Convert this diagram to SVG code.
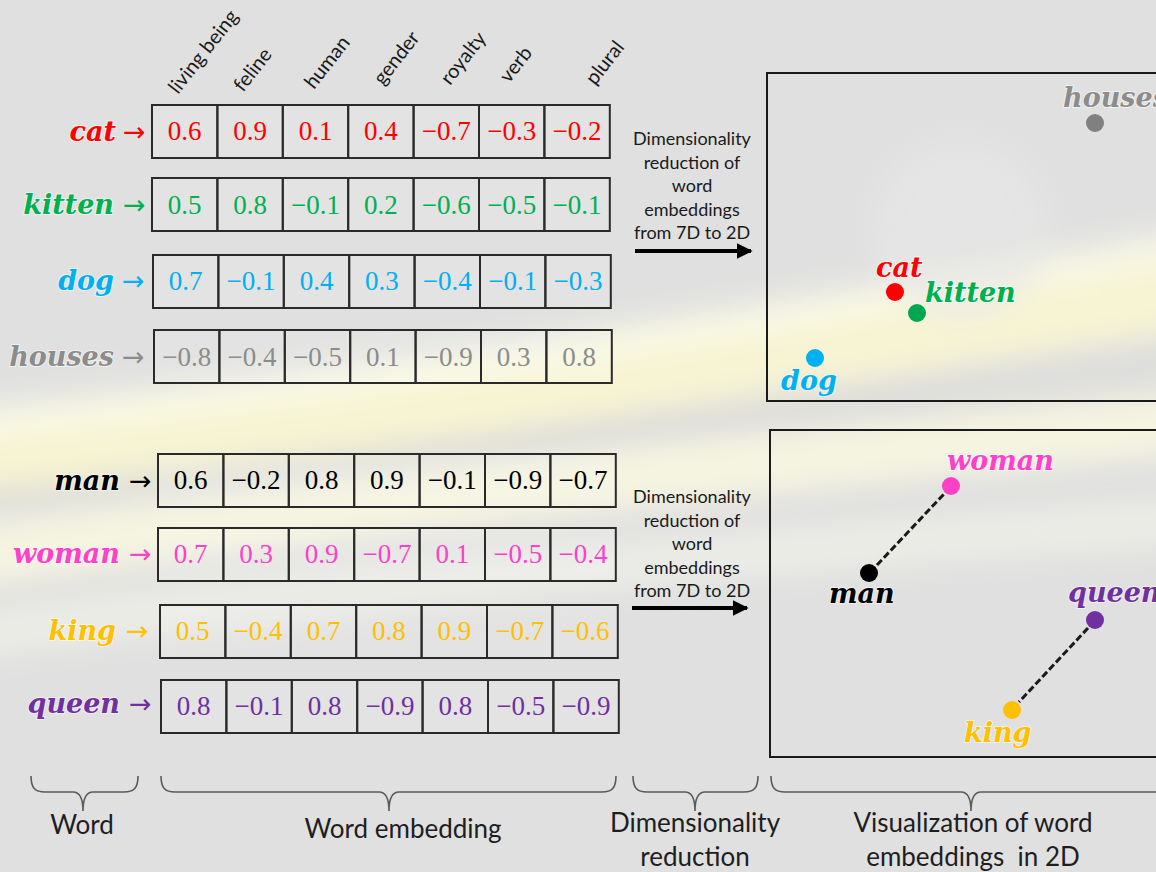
<svg xmlns="http://www.w3.org/2000/svg" width="1156" height="872" viewBox="0 0 1156 872">
<defs>
<style>
.hdr{font-family:Lato,"Open Sans",sans-serif;font-size:20px;fill:#1a1a1a}
.num{font-family:"Liberation Serif",serif;font-size:27px;text-anchor:middle}
.cell{fill:#ffffff;fill-opacity:0.12;stroke:#2a2a2a;stroke-width:2}
.wd{font-family:"DejaVu Serif",serif;font-weight:bold;font-style:italic;font-size:27px;paint-order:stroke;stroke:#ffffff;stroke-width:2;stroke-opacity:0.55}
.ar{font-family:"DejaVu Sans ExtraLight","DejaVu Sans",sans-serif;font-size:27px}
.dim{font-family:Lato,"Open Sans",sans-serif;font-size:18px;fill:#1a1a1a;text-anchor:middle}
.cap{font-family:Lato,"Open Sans",sans-serif;font-size:26px;fill:#1e1e1e;text-anchor:middle;white-space:pre}
.brace{fill:none;stroke:#5a5a5a;stroke-width:1.6}
.panel{fill:none;stroke:#1a1a1a;stroke-width:2}
.dash{stroke:#1a1a1a;stroke-width:3;stroke-dasharray:7 3;fill:none}
</style>
<filter id="blur" x="-20%" y="-50%" width="140%" height="200%"><feGaussianBlur stdDeviation="14"/></filter>
<marker id="ah" viewBox="0 0 10 10" refX="9" refY="5" markerWidth="4" markerHeight="4" orient="auto" markerUnits="strokeWidth"><path d="M0,0 L10,5 L0,10 z" fill="#000"/></marker>
</defs>

<g id="background">
<rect x="0" y="0" width="1156" height="872" fill="#e0e0e0"/>
<g filter="url(#blur)">
<path d="M-60,470 Q 450,410 1220,290" stroke="#f8f6d2" stroke-width="70" fill="none" opacity="0.9"/>
<path d="M-60,425 Q 450,380 1220,240" stroke="#fdfce8" stroke-width="30" fill="none" opacity="0.8"/>
<path d="M-60,560 Q 450,490 1220,420" stroke="#f9f8e2" stroke-width="60" fill="none" opacity="0.85"/>
<path d="M-60,640 Q 450,570 1220,520" stroke="#f1f1ea" stroke-width="45" fill="none" opacity="0.7"/>
<path d="M-60,500 Q 450,450 1220,360" stroke="#d6d6d0" stroke-width="16" fill="none" opacity="0.6"/>
<circle cx="960" cy="230" r="90" fill="#e8e8e8" opacity="0.6"/>
</g>
</g>

<g id="headers">
<text class="hdr" transform="translate(178,95) rotate(-52)">living being</text>
<text class="hdr" transform="translate(243,93) rotate(-52)">feline</text>
<text class="hdr" transform="translate(314,90) rotate(-52)">human</text>
<text class="hdr" transform="translate(383,86) rotate(-52)">gender</text>
<text class="hdr" transform="translate(450,86) rotate(-52)">royalty</text>
<text class="hdr" transform="translate(509,84) rotate(-52)">verb</text>
<text class="hdr" transform="translate(595,86) rotate(-52)">plural</text>
</g>

<g id="word-cat" fill="#ff0000">
<text class="wd" x="116" y="141" text-anchor="end">cat</text>
<text class="ar" x="123" y="141">→</text>
</g>
<g id="emb-cat" transform="translate(152,105)" fill="#ff0000">
<rect class="cell" x="0" y="0" width="65.4" height="53"/><rect class="cell" x="65.4" y="0" width="65.4" height="53"/><rect class="cell" x="130.8" y="0" width="65.4" height="53"/><rect class="cell" x="196.2" y="0" width="65.4" height="53"/><rect class="cell" x="261.6" y="0" width="65.4" height="53"/><rect class="cell" x="327" y="0" width="65.4" height="53"/><rect class="cell" x="392.4" y="0" width="65.4" height="53"/>
<text class="num" x="32.7" y="35">0.6</text><text class="num" x="98.1" y="35">0.9</text><text class="num" x="163.5" y="35">0.1</text><text class="num" x="228.9" y="35">0.4</text><text class="num" x="294.3" y="35">−0.7</text><text class="num" x="359.7" y="35">−0.3</text><text class="num" x="425.1" y="35">−0.2</text>
</g>

<g id="word-kitten" fill="#00b050">
<text class="wd" x="114" y="214" text-anchor="end">kitten</text>
<text class="ar" x="123" y="214">→</text>
</g>
<g id="emb-kitten" transform="translate(152,178)" fill="#00b050">
<rect class="cell" x="0" y="0" width="65.4" height="53"/><rect class="cell" x="65.4" y="0" width="65.4" height="53"/><rect class="cell" x="130.8" y="0" width="65.4" height="53"/><rect class="cell" x="196.2" y="0" width="65.4" height="53"/><rect class="cell" x="261.6" y="0" width="65.4" height="53"/><rect class="cell" x="327" y="0" width="65.4" height="53"/><rect class="cell" x="392.4" y="0" width="65.4" height="53"/>
<text class="num" x="32.7" y="36">0.5</text><text class="num" x="98.1" y="36">0.8</text><text class="num" x="163.5" y="36">−0.1</text><text class="num" x="228.9" y="36">0.2</text><text class="num" x="294.3" y="36">−0.6</text><text class="num" x="359.7" y="36">−0.5</text><text class="num" x="425.1" y="36">−0.1</text>
</g>

<g id="word-dog" fill="#00b0f0">
<text class="wd" x="114" y="290" text-anchor="end">dog</text>
<text class="ar" x="122" y="290">→</text>
</g>
<g id="emb-dog" transform="translate(153,255)" fill="#00b0f0">
<rect class="cell" x="0" y="0" width="65.4" height="53"/><rect class="cell" x="65.4" y="0" width="65.4" height="53"/><rect class="cell" x="130.8" y="0" width="65.4" height="53"/><rect class="cell" x="196.2" y="0" width="65.4" height="53"/><rect class="cell" x="261.6" y="0" width="65.4" height="53"/><rect class="cell" x="327" y="0" width="65.4" height="53"/><rect class="cell" x="392.4" y="0" width="65.4" height="53"/>
<text class="num" x="32.7" y="35">0.7</text><text class="num" x="98.1" y="35">−0.1</text><text class="num" x="163.5" y="35">0.4</text><text class="num" x="228.9" y="35">0.3</text><text class="num" x="294.3" y="35">−0.4</text><text class="num" x="359.7" y="35">−0.1</text><text class="num" x="425.1" y="35">−0.3</text>
</g>

<g id="word-houses" fill="#8c8c8c">
<text class="wd" x="114" y="366" text-anchor="end">houses</text>
<text class="ar" x="122" y="366">→</text>
</g>
<g id="emb-houses" transform="translate(154,330)" fill="#8c8c8c">
<rect class="cell" x="0" y="0" width="65.4" height="53"/><rect class="cell" x="65.4" y="0" width="65.4" height="53"/><rect class="cell" x="130.8" y="0" width="65.4" height="53"/><rect class="cell" x="196.2" y="0" width="65.4" height="53"/><rect class="cell" x="261.6" y="0" width="65.4" height="53"/><rect class="cell" x="327" y="0" width="65.4" height="53"/><rect class="cell" x="392.4" y="0" width="65.4" height="53"/>
<text class="num" x="32.7" y="36">−0.8</text><text class="num" x="98.1" y="36">−0.4</text><text class="num" x="163.5" y="36">−0.5</text><text class="num" x="228.9" y="36">0.1</text><text class="num" x="294.3" y="36">−0.9</text><text class="num" x="359.7" y="36">0.3</text><text class="num" x="425.1" y="36">0.8</text>
</g>

<g id="word-man" fill="#000000">
<text class="wd" x="120" y="490" text-anchor="end">man</text>
<text class="ar" x="129" y="490">→</text>
</g>
<g id="emb-man" transform="translate(158,454)" fill="#000000">
<rect class="cell" x="0" y="0" width="65.4" height="53"/><rect class="cell" x="65.4" y="0" width="65.4" height="53"/><rect class="cell" x="130.8" y="0" width="65.4" height="53"/><rect class="cell" x="196.2" y="0" width="65.4" height="53"/><rect class="cell" x="261.6" y="0" width="65.4" height="53"/><rect class="cell" x="327" y="0" width="65.4" height="53"/><rect class="cell" x="392.4" y="0" width="65.4" height="53"/>
<text class="num" x="32.7" y="35">0.6</text><text class="num" x="98.1" y="35">−0.2</text><text class="num" x="163.5" y="35">0.8</text><text class="num" x="228.9" y="35">0.9</text><text class="num" x="294.3" y="35">−0.1</text><text class="num" x="359.7" y="35">−0.9</text><text class="num" x="425.1" y="35">−0.7</text>
</g>

<g id="word-woman" fill="#ff40c8">
<text class="wd" x="120" y="563" text-anchor="end">woman</text>
<text class="ar" x="129" y="563">→</text>
</g>
<g id="emb-woman" transform="translate(158,528)" fill="#ff40c8">
<rect class="cell" x="0" y="0" width="65.4" height="53"/><rect class="cell" x="65.4" y="0" width="65.4" height="53"/><rect class="cell" x="130.8" y="0" width="65.4" height="53"/><rect class="cell" x="196.2" y="0" width="65.4" height="53"/><rect class="cell" x="261.6" y="0" width="65.4" height="53"/><rect class="cell" x="327" y="0" width="65.4" height="53"/><rect class="cell" x="392.4" y="0" width="65.4" height="53"/>
<text class="num" x="32.7" y="35">0.7</text><text class="num" x="98.1" y="35">0.3</text><text class="num" x="163.5" y="35">0.9</text><text class="num" x="228.9" y="35">−0.7</text><text class="num" x="294.3" y="35">0.1</text><text class="num" x="359.7" y="35">−0.5</text><text class="num" x="425.1" y="35">−0.4</text>
</g>

<g id="word-king" fill="#ffc000">
<text class="wd" x="116" y="640" text-anchor="end">king</text>
<text class="ar" x="126" y="640">→</text>
</g>
<g id="emb-king" transform="translate(160,605)" fill="#ffc000">
<rect class="cell" x="0" y="0" width="65.4" height="53"/><rect class="cell" x="65.4" y="0" width="65.4" height="53"/><rect class="cell" x="130.8" y="0" width="65.4" height="53"/><rect class="cell" x="196.2" y="0" width="65.4" height="53"/><rect class="cell" x="261.6" y="0" width="65.4" height="53"/><rect class="cell" x="327" y="0" width="65.4" height="53"/><rect class="cell" x="392.4" y="0" width="65.4" height="53"/>
<text class="num" x="32.7" y="35">0.5</text><text class="num" x="98.1" y="35">−0.4</text><text class="num" x="163.5" y="35">0.7</text><text class="num" x="228.9" y="35">0.8</text><text class="num" x="294.3" y="35">0.9</text><text class="num" x="359.7" y="35">−0.7</text><text class="num" x="425.1" y="35">−0.6</text>
</g>

<g id="word-queen" fill="#7030a0">
<text class="wd" x="120" y="713" text-anchor="end">queen</text>
<text class="ar" x="129" y="713">→</text>
</g>
<g id="emb-queen" transform="translate(161,680)" fill="#7030a0">
<rect class="cell" x="0" y="0" width="65.4" height="53"/><rect class="cell" x="65.4" y="0" width="65.4" height="53"/><rect class="cell" x="130.8" y="0" width="65.4" height="53"/><rect class="cell" x="196.2" y="0" width="65.4" height="53"/><rect class="cell" x="261.6" y="0" width="65.4" height="53"/><rect class="cell" x="327" y="0" width="65.4" height="53"/><rect class="cell" x="392.4" y="0" width="65.4" height="53"/>
<text class="num" x="32.7" y="35">0.8</text><text class="num" x="98.1" y="35">−0.1</text><text class="num" x="163.5" y="35">0.8</text><text class="num" x="228.9" y="35">−0.9</text><text class="num" x="294.3" y="35">0.8</text><text class="num" x="359.7" y="35">−0.5</text><text class="num" x="425.1" y="35">−0.9</text>
</g>

<g id="dimred-top">
<text class="dim" x="692" y="145">Dimensionality</text>
<text class="dim" x="692" y="168.5">reduction of</text>
<text class="dim" x="692" y="192">word</text>
<text class="dim" x="692" y="215.5">embeddings</text>
<text class="dim" x="692" y="239">from 7D to 2D</text>
</g>
<g id="dimred-bottom">
<text class="dim" x="692" y="503">Dimensionality</text>
<text class="dim" x="692" y="526.5">reduction of</text>
<text class="dim" x="692" y="550">word</text>
<text class="dim" x="692" y="573.5">embeddings</text>
<text class="dim" x="692" y="597">from 7D to 2D</text>
</g>

<g id="panel-top">
<rect class="panel" x="767" y="73" width="420" height="328"/>
<circle cx="1095" cy="123" r="9" fill="#808080"/>
<text class="wd" x="1063" y="107" fill="#8c8c8c">houses</text>
<circle cx="895" cy="292" r="9" fill="#ff0000"/>
<text class="wd" x="876" y="277" fill="#ff0000">cat</text>
<circle cx="917" cy="313" r="9" fill="#00a650"/>
<text class="wd" x="925" y="302" fill="#00b050">kitten</text>
<circle cx="815" cy="358" r="9" fill="#00b0f0"/>
<text class="wd" x="781" y="390" fill="#00b0f0">dog</text>
</g>

<g id="panel-bottom">
<rect class="panel" x="770" y="430" width="420" height="327"/>
<circle cx="951" cy="486" r="9" fill="#ff40c8"/>
<text class="wd" x="947" y="470" fill="#ff40c8">woman</text>
<circle cx="869" cy="573" r="9" fill="#000000"/>
<text class="wd" x="829" y="603" fill="#000000">man</text>
<circle cx="1095" cy="620" r="9" fill="#7030a0"/>
<text class="wd" x="1068" y="602" fill="#7030a0">queen</text>
<circle cx="1012" cy="710" r="9" fill="#ffc000"/>
<text class="wd" x="964" y="742" fill="#ffc000">king</text>
</g>

<g id="connectors">
<line x1="635" y1="251" x2="751" y2="251" stroke="#000" stroke-width="4" marker-end="url(#ah)"/>
<line x1="632" y1="608" x2="747" y2="608" stroke="#000" stroke-width="4" marker-end="url(#ah)"/>
<line class="dash" x1="877" y1="565" x2="944" y2="494"/>
<line class="dash" x1="1088" y1="628" x2="1019" y2="702"/>
</g>

<g id="braces">
<path class="brace" d="M31,776 C31,788 35,792 45,792 L73,792 C80,792 83,798 83,811 C83,798 86,792 93,792 L124,792 C134,792 138,788 138,776"/>
<path class="brace" d="M161,776 C161,788 165,792 175,792 L379,792 C386,792 389,798 389,811 C389,798 392,792 399,792 L602,792 C612,792 616,788 616,776"/>
<path class="brace" d="M633,776 C633,788 637,792 647,792 L685,792 C692,792 695,798 695,811 C695,798 698,792 705,792 L744,792 C754,792 758,788 758,776"/>
<path class="brace" d="M771,776 C771,788 775,792 785,792 L961,792 C968,792 971,798 971,811 C971,798 974,792 981,792 L1158,792 C1168,792 1172,788 1172,776"/>
</g>

<g id="captions">
<text class="cap" x="82" y="834">Word</text>
<text class="cap" x="403" y="838">Word embedding</text>
<text class="cap" x="695" y="832">Dimensionality</text>
<text class="cap" x="695" y="866">reduction</text>
<text class="cap" x="973" y="832">Visualization of word</text>
<text class="cap" x="973" y="866">embeddings  in 2D</text>
</g>
</svg>
